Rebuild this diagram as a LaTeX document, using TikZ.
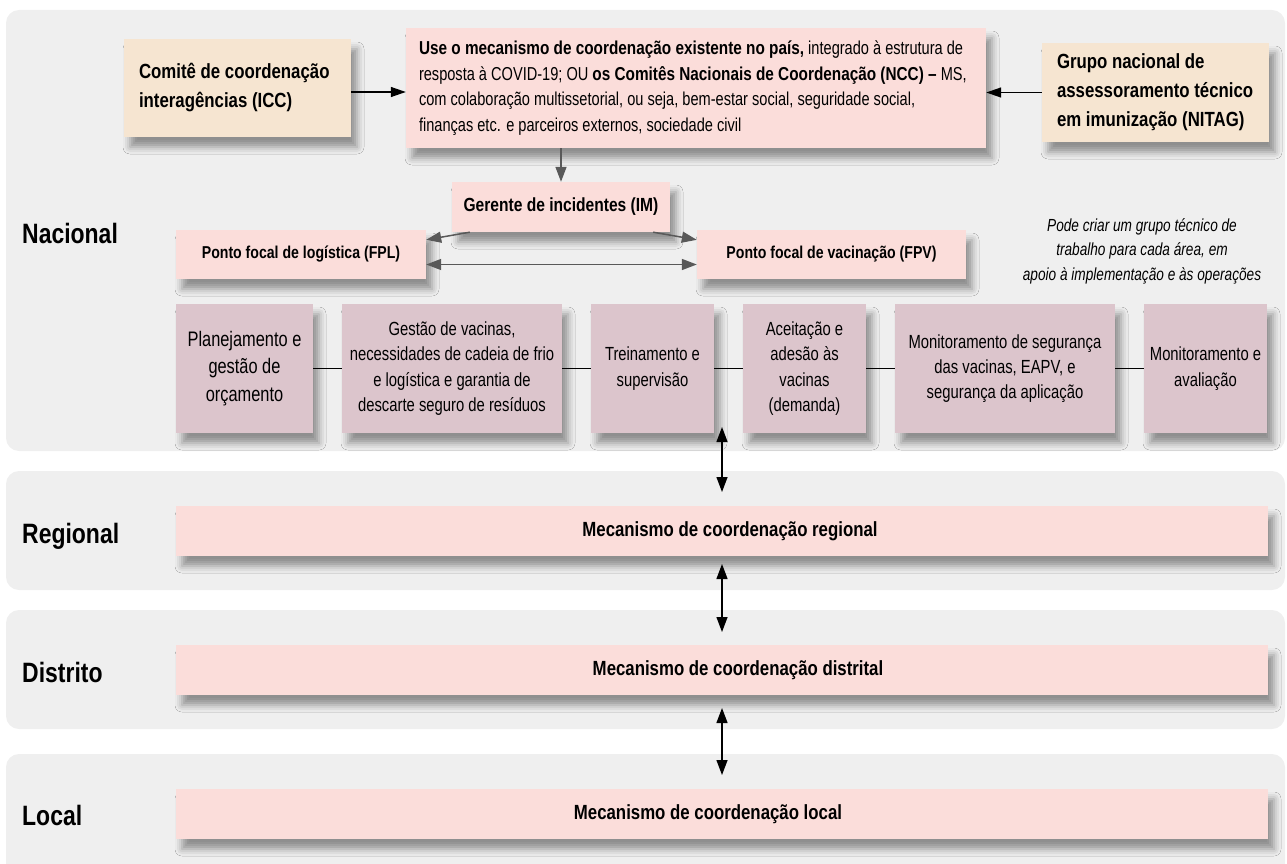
\documentclass[tikz,border=0pt]{standalone}
\usepackage{fontspec}
\setmainfont{Liberation Sans}[FakeStretch=0.78, BoldFeatures={FakeStretch=0.82}]
\usetikzlibrary{arrows.meta,shadows.blur,calc}
\definecolor{panelc}{HTML}{EFEFEF}
\definecolor{pinkc}{HTML}{FBDDDA}
\definecolor{beigec}{HTML}{F6E5D1}
\definecolor{mauvec}{HTML}{DCC5CC}
\definecolor{grayarr}{HTML}{595959}
\newcommand\fICC{\fontsize{20.5}{29}\selectfont\bfseries}
\newcommand\fMain{\fontsize{18.7}{25.7}\selectfont}
\newcommand\fFP{\fontsize{17.2}{20}\selectfont\bfseries}
\newcommand\fIM{\fontsize{19}{22}\selectfont\bfseries}
\newcommand\fRowA{\fontsize{21}{27.5}\selectfont}
\newcommand\fRow{\fontsize{19}{25.3}\selectfont}
\newcommand\fLevel{\fontsize{28}{30}\selectfont\bfseries}
\newcommand\fBar{\fontsize{20.5}{22}\selectfont\bfseries}
\newcommand\fNote{\fontsize{17.5}{24.5}\selectfont\itshape}
\begin{document}
\begin{tikzpicture}[x=1pt,y=-1pt,
  shadowed/.style={blur shadow={shadow xshift=6pt,shadow yshift=-10pt,shadow blur radius=7pt,shadow opacity=40}},
  box/.style={rectangle,inner sep=0pt,shadowed},
  beigebox/.style={box,fill=beigec},
  pinkbox/.style={box,fill=pinkc},
  mauvebox/.style={box,fill=mauvec,minimum height=129pt,align=center},
  boxtext/.style={anchor=west,inner sep=0pt,align=flush left},
  bar/.style={rectangle,inner sep=0pt,fill=pinkc,shadowed,minimum width=1092pt,minimum height=50pt},
  level/.style={anchor=base west,inner sep=0pt,font=\fLevel},
  bartext/.style={inner sep=0pt,font=\fBar},
  blackarrow/.style={draw=black,line width=1.3pt,-{Triangle[length=15pt,width=10pt]}},
  vdouble/.style={draw=black,line width=1.3pt,{Triangle[length=15pt,width=11pt]}-{Triangle[length=15pt,width=11pt]}},
  grayarrow/.style={draw=grayarr,line width=1.5pt,-{Triangle[length=15pt,width=11pt]}},
  graydouble/.style={draw=grayarr,line width=1.5pt,{Triangle[length=15pt,width=11pt]}-{Triangle[length=15pt,width=11pt]}},
  link/.style={draw=black,line width=1.3pt}]
\useasboundingbox (0,0) rectangle (1287,864);
\clip (0,0) rectangle (1287,864);
% panels
\fill[panelc,rounded corners=13pt] (6,10) rectangle (1285,451);
\fill[panelc,rounded corners=13pt] (6,471) rectangle (1285,590);
\fill[panelc,rounded corners=13pt] (6,610) rectangle (1285,729);
\fill[panelc,rounded corners=13pt] (6,754) rectangle (1285,900);
% level labels
\node[level] (lnac) at (22,243) {Nacional};
\node[level] (lreg) at (22,543) {Regional};
\node[level] (ldis) at (22,682) {Distrito};
\node[level] (lloc) at (22,825) {Local};
% top row
\node[beigebox,minimum width=227pt,minimum height=98pt] (icc) at (237.5,88) {};
\node[boxtext,font=\fICC] (icct) at ([xshift=15pt]icc.west) {Comitê de coordenação\\interagências (ICC)};
\node[pinkbox,minimum width=580pt,minimum height=120pt] (main) at (696,88) {};
\node[boxtext,font=\fMain] (maint) at ([xshift=13pt]main.west) {\textbf{Use o mecanismo de coordenação existente no país,} integrado à estrutura de\\resposta à COVID-19; OU \textbf{os Comitês Nacionais de Coordenação (NCC) –} MS,\\com colaboração multissetorial, ou seja, bem-estar social, seguridade social,\\finanças etc. e parceiros externos, sociedade civil};
\node[beigebox,minimum width=227pt,minimum height=99pt] (nitag) at (1155.5,92.5) {};
\node[boxtext,font=\fICC] (nitagt) at ([xshift=15pt]nitag.west) {Grupo nacional de\\assessoramento técnico\\em imunização (NITAG)};
% incident manager and focal points
\node[pinkbox,minimum width=218pt,minimum height=50pt,font=\fIM] (im) at (561,207) {Gerente de incidentes (IM)};
\node[pinkbox,minimum width=250pt,minimum height=49pt,font=\fFP] (fpl) at (301,254.5) {Ponto focal de logística (FPL)};
\node[pinkbox,minimum width=269pt,minimum height=49pt,font=\fFP] (fpv) at (831.5,254.5) {Ponto focal de vacinação (FPV)};
\node[inner sep=0pt,align=center,font=\fNote] (note) at (1142,251) {Pode criar um grupo técnico de\\trabalho para cada área, em\\apoio à implementação e às operações};
% area boxes
\node[mauvebox,minimum width=137pt,font=\fRowA] (b1) at (244.5,368.5) {Planejamento e\\gestão de\\orçamento};
\node[mauvebox,minimum width=220pt,font=\fRow] (b2) at (452,368.5) {Gestão de vacinas,\\necessidades de cadeia de frio\\e logística e garantia de\\descarte seguro de resíduos};
\node[mauvebox,minimum width=123pt,font=\fRow] (b3) at (652.5,368.5) {Treinamento e\\supervisão};
\node[mauvebox,minimum width=123pt,font=\fRow] (b4) at (804.5,368.5) {Aceitação e\\adesão às\\vacinas\\(demanda)};
\node[mauvebox,minimum width=220pt,font=\fRow] (b5) at (1005,368.5) {Monitoramento de segurança\\das vacinas, EAPV, e\\segurança da aplicação};
\node[mauvebox,minimum width=123pt,font=\fRow] (b6) at (1205.5,368.5) {Monitoramento e\\avaliação};
% level bars
\node[bar] (breg) at (722,531) {};
\node[bar] (bdis) at (722,670) {};
\node[bar] (bloc) at (722,814) {};
\node[bartext] (treg) at (730,531) {Mecanismo de coordenação regional};
\node[bartext] (tdis) at (738,670) {Mecanismo de coordenação distrital};
\node[bartext] (tloc) at (708,814) {Mecanismo de coordenação local};
% connectors
\draw[blackarrow] ([yshift=-4pt]icc.east) -- ([yshift=-4pt]icc.east -| main.west);
\draw[blackarrow] (nitag.west) -- (nitag.west -| main.east);
\draw[grayarrow] (im.north |- main.south) -- (im.north);
\draw[grayarrow] ([xshift=18pt]im.south west) -- ([yshift=-10pt]fpl.north east);
\draw[grayarrow] ([xshift=-17pt]im.south east) -- ([yshift=-10pt]fpv.north west);
\draw[graydouble] ([yshift=-10pt]fpl.east) -- ([yshift=-10pt]fpv.west);
\draw[link] (b1) -- (b2);
\draw[link] (b2) -- (b3);
\draw[link] (b3) -- (b4);
\draw[link] (b4) -- (b5);
\draw[link] (b5) -- (b6);
\coordinate (v1a) at (722,427);
\coordinate (v1b) at (722,492);
\coordinate (v2a) at (722,564);
\coordinate (v2b) at (722,632);
\coordinate (v3a) at (722,708);
\coordinate (v3b) at (722,775);
\draw[vdouble] (v1a) -- (v1b);
\draw[vdouble] (v2a) -- (v2b);
\draw[vdouble] (v3a) -- (v3b);
\end{tikzpicture}
\end{document}
